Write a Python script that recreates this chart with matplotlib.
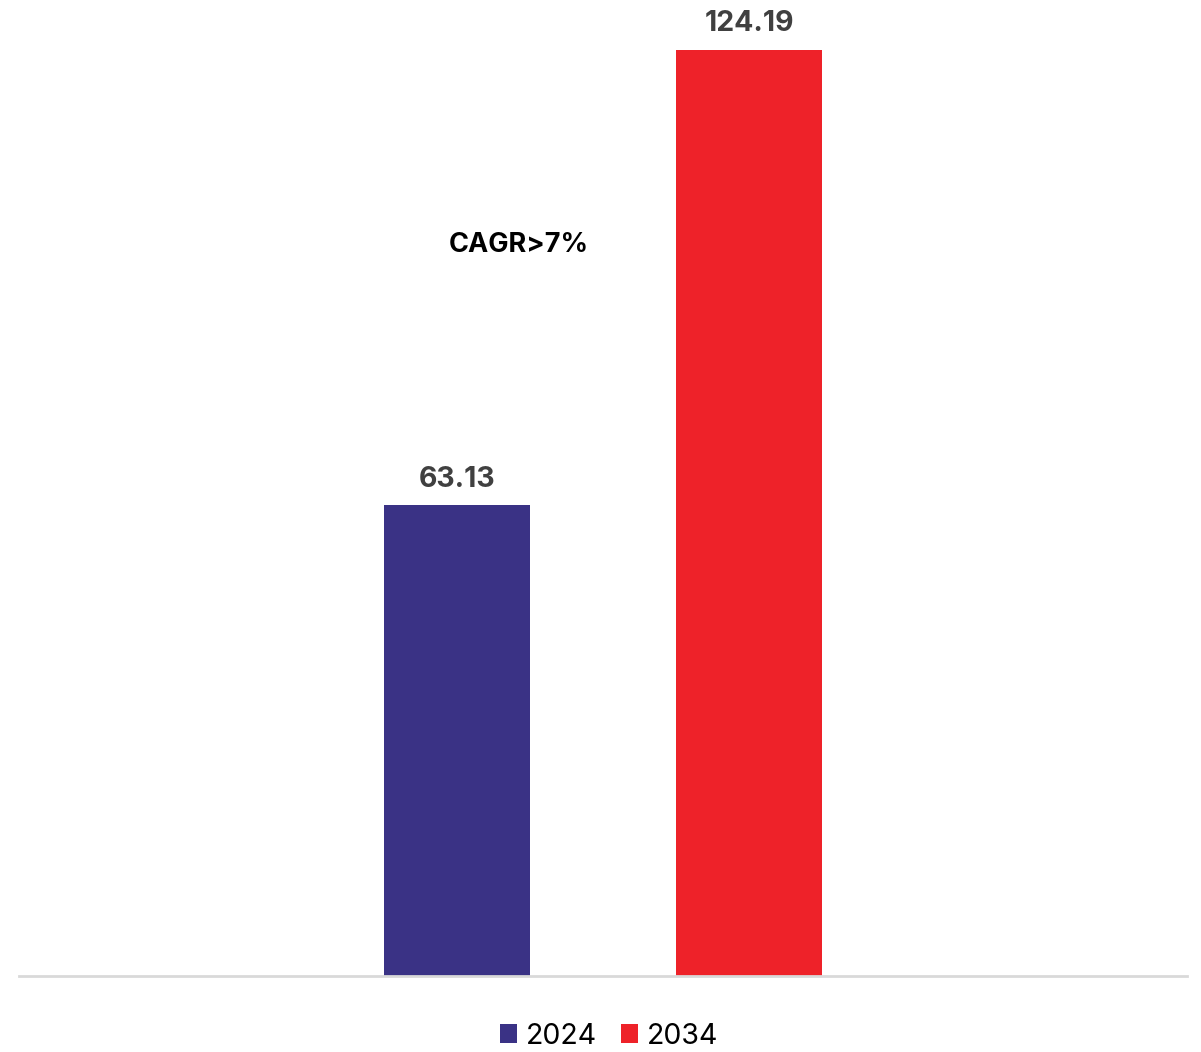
import matplotlib
matplotlib.use("Agg")
import matplotlib.pyplot as plt
from matplotlib.patches import Patch

plt.rcParams['font.family'] = ['Inter', 'DejaVu Sans']

years = ["2024", "2034"]
values = [63.13, 124.19]
colors = ["#3a3285", "#ee2229"]
cagr_text = "CAGR>7%"

fig = plt.figure(figsize=(12.01, 10.52), dpi=100)
ax = fig.add_axes([19 / 1201, 76 / 1052, 1168 / 1201, 966 / 1052])

x = list(range(len(years)))
bars = ax.bar(x, values, width=0.5, color=colors)
ax.bar_label(bars, labels=[f"{v:.2f}" for v in values], padding=9,
             fontsize=20.5, fontweight="bold", color="#404040")

ax.set_xlim(-1.5, 2.5)
ax.set_ylim(0, 129.55)

ax.text(0.21, 98, cagr_text, ha="center", va="center",
        fontsize=19.5, fontweight="bold", color="#000000")

for side in ("top", "right", "left"):
    ax.spines[side].set_visible(False)
ax.spines["bottom"].set_color("#d9d9d9")
ax.spines["bottom"].set_linewidth(2)
ax.set_xticks([])
ax.set_yticks([])

handles = [Patch(facecolor=c, label=y) for c, y in zip(colors, years)]
fig.legend(handles=handles, loc="lower center", bbox_to_anchor=(0.507, -0.022),
           ncol=2, frameon=False, fontsize=20.5, handlelength=0.6,
           handleheight=0.6, handletextpad=0.3, columnspacing=0.85)

fig.savefig("out.png", dpi=100, facecolor="white")
